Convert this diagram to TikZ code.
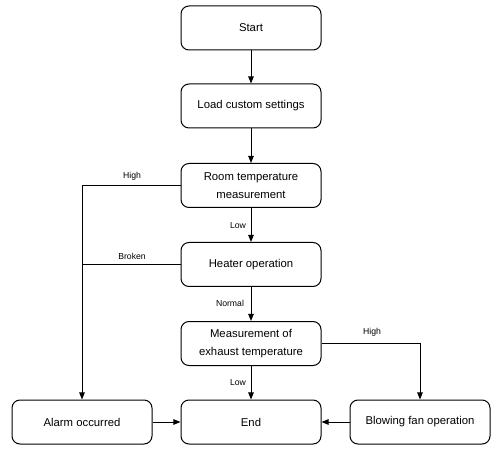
\documentclass[tikz,border=0pt]{standalone}
\usepackage{fontspec}
\setmainfont{Liberation Sans}
\usetikzlibrary{arrows.meta}
\tikzset{every picture/.style={line width=0.75pt}}
\tikzset{
  stepbox/.style={draw, rounded corners=6pt, minimum width=105pt, minimum height=33pt,
    align=center, inner sep=1pt, font=\fontsize{8.5}{14}\selectfont},
  flow/.style={-{Triangle[length=5.4pt,width=4.2pt]}},
  cond/.style={inner sep=0.75pt, font=\fontsize{6.5}{8}\selectfont}
}
\begin{document}
\begin{tikzpicture}[x=0.75pt,y=0.75pt,yscale=-1,xscale=1]
\useasboundingbox (0,0) rectangle (493,449);

%Shape: Boxes
\node[stepbox] (start) at (251,28) {Start};
\node[stepbox] (load) at (251,106) {Load custom settings};
\node[stepbox] (room) at (251,185.5) {Room temperature\\measurement};
\node[stepbox] (heater) at (251,264.5) {Heater operation};
\node[stepbox] (exhaust) at (251,343.5) {Measurement of\\exhaust temperature};
\node[stepbox] (alarm) at (82,422) {Alarm occurred};
\node[stepbox] (end) at (251,422) {End};
\node[stepbox] (fan) at (420,422) {Blowing fan operation};

%Straight Lines
\draw[flow] (start) -- (load);
\draw[flow] (load) -- (room);
\draw[flow] (room) -- (heater);
\draw[flow] (heater) -- (exhaust);
\draw[flow] (exhaust) -- (end);
\draw[flow] (room.west) -- (alarm.north |- room.west) -- (alarm.north);
\draw (heater.west) -- (alarm.north |- heater.west);
\draw[flow] (exhaust.east) -| (fan.north);
\draw[flow] (alarm) -- (end);
\draw[flow] (fan) -- (end);

% Text Node
\node[cond] (high1) at (132,176) {High};
% Text Node
\node[cond] (broken) at (132,256) {Broken};
% Text Node
\node[cond] (low1) at (238,226) {Low};
% Text Node
\node[cond] (normal) at (230,303) {Normal};
% Text Node
\node[cond] (low2) at (238,383) {Low};
% Text Node
\node[cond] (high2) at (372,332) {High};

\end{tikzpicture}
\end{document}
